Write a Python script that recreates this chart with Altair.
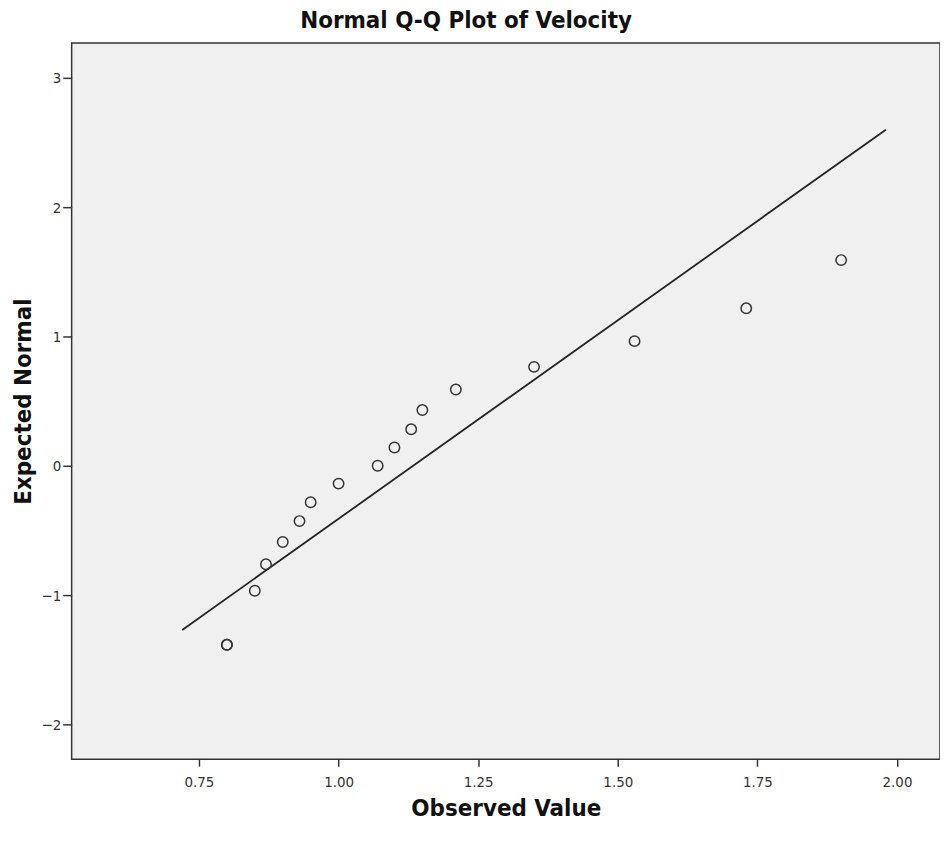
import altair as alt
import pandas as pd

observed = [0.80, 0.80, 0.85, 0.87, 0.90, 0.93, 0.95, 1.00, 1.07, 1.10, 1.13, 1.15,
            1.21, 1.35, 1.53, 1.73, 1.90]
expected = [-1.385, -1.385, -0.967, -0.762, -0.590, -0.428, -0.282, -0.138, 0.0, 0.141,
            0.282, 0.431, 0.590, 0.765, 0.964, 1.218, 1.591]

# Reference line end points
line_x = [0.72, 1.98]
line_y = [-1.27, 2.60]

x_ticks = [0.75, 1.00, 1.25, 1.50, 1.75, 2.00]
y_ticks = [-2, -1, 0, 1, 2, 3]
x_domain = [0.522, 2.077]
y_domain = [-2.27, 3.27]

pts = pd.DataFrame({"obs": observed, "exp": expected})
ln = pd.DataFrame({"obs": line_x, "exp": line_y})

FONT = "DejaVu Sans Condensed"

xscale = alt.Scale(domain=x_domain, nice=False, zero=False)
yscale = alt.Scale(domain=y_domain, nice=False, zero=False)

xaxis = alt.Axis(values=x_ticks, format=".2f", title="Observed Value", grid=False,
                 tickSize=7, tickColor="#333", tickWidth=1.5, domain=False,
                 labelFontSize=15, labelColor="#333", labelFont=FONT, labelPadding=8,
                 titleFontSize=24, titleFont=FONT, titleFontWeight="bold",
                 titleColor="#111", titlePadding=8)
yaxis = alt.Axis(values=y_ticks, format="d", title="Expected Normal", grid=False,
                 tickSize=9, tickColor="#333", tickWidth=1.5, domain=False,
                 labelFontSize=15, labelColor="#333", labelFont=FONT, labelPadding=2,
                 titleFontSize=24, titleFont=FONT, titleFontWeight="bold",
                 titleColor="#111", titlePadding=5)

line = alt.Chart(ln).mark_line(color="#222", strokeWidth=1.8).encode(
    x=alt.X("obs:Q", scale=xscale, axis=xaxis),
    y=alt.Y("exp:Q", scale=yscale, axis=yaxis),
)

points = alt.Chart(pts).mark_point(shape="circle", filled=False, size=110,
                                   color="#333", strokeWidth=1.5, opacity=1).encode(
    x=alt.X("obs:Q", scale=xscale),
    y=alt.Y("exp:Q", scale=yscale),
)

chart = alt.layer(line, points).properties(
    width=873,
    height=720,
    title=alt.TitleParams("Normal Q-Q Plot of Velocity", fontSize=24, font=FONT,
                          fontWeight="bold", color="#111", anchor="middle",
                          offset=10, dx=-40),
    autosize=alt.AutoSizeParams(type="none"),
    padding={"left": 64, "top": 33, "right": 0, "bottom": 80},
).configure(
    background="white",
    view=alt.ViewConfig(fill="#f0f0f0", stroke="#333", strokeWidth=1.5),
)

chart.save("out.html", embed_options={"renderer": "svg", "actions": False})
